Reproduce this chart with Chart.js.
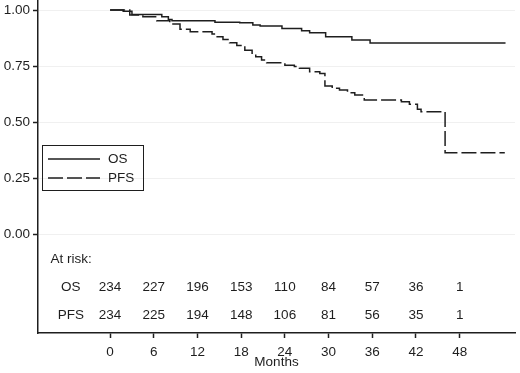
<!DOCTYPE html>
<html>
<head>
<meta charset="utf-8">
<script src="https://cdn.jsdelivr.net/npm/chart.js@4.4.1/dist/chart.umd.min.js"></script>
<style>
  html, body { margin: 0; padding: 0; background: #fff; }
</style>
</head>
<body>
<canvas id="km" width="520" height="373"></canvas>
<script>
// Kaplan-Meier steps (month, survival after that month)
const osMonths = [0, 1.8, 3.0, 7.1, 8.0, 8.5, 14.4, 17.8, 19.6, 20.6, 23.6, 26.3, 27.4, 29.6, 33.2, 35.7, 54.3];
const osSurv   = [1.0, 0.995, 0.98, 0.97, 0.958, 0.952, 0.946, 0.943, 0.933, 0.929, 0.918, 0.908, 0.899, 0.881, 0.866, 0.853, 0.853];

const pfsMonths = [0, 2.7, 4.5, 6.4, 8.2, 9.6, 11.0, 14.0, 14.7, 15.5, 16.4, 17.4, 18.5, 19.5, 20.0, 20.8, 21.5,
                   24.0, 25.3, 26.0, 27.4, 28.8, 29.5, 30.5, 31.5, 32.6, 33.6, 34.9, 40.0, 41.1, 42.2, 42.7, 46.0, 54.2];
const pfsSurv   = [1.0, 0.978, 0.970, 0.952, 0.938, 0.914, 0.903, 0.893, 0.881, 0.869, 0.854, 0.842, 0.821, 0.807, 0.792, 0.777, 0.765,
                   0.754, 0.748, 0.740, 0.725, 0.717, 0.661, 0.651, 0.643, 0.631, 0.621, 0.598, 0.591, 0.580, 0.557, 0.546, 0.363, 0.363];

const xTicks = [0, 6, 12, 18, 24, 30, 36, 42, 48];
const yTicks = [0, 0.25, 0.5, 0.75, 1];

const riskMonths = [0, 6, 12, 18, 24, 30, 36, 42, 48];
const riskOS  = [234, 227, 196, 153, 110, 84, 57, 36, 1];
const riskPFS = [234, 225, 194, 148, 106, 81, 56, 35, 1];

const ink = '#1e1e1e';
const fontStr = "13.5px 'Liberation Sans', Arial, sans-serif";
Chart.defaults.font.family = "'Liberation Sans', Arial, sans-serif";
Chart.defaults.font.size = 13.5;
Chart.defaults.color = ink;

function toPoints(xs, ys) {
  return xs.map(function (x, i) { return { x: x, y: ys[i] }; });
}

const extras = {
  id: 'extras',
  afterDraw: function (chart) {
    const c = chart.ctx;
    const xs = chart.scales.x, ys = chart.scales.y;
    c.save();
    c.fillStyle = ink;
    c.font = fontStr;
    c.textBaseline = 'middle';

    // number at risk table
    c.textAlign = 'left';
    c.fillText('At risk:', xs.getPixelForValue(-8.2), ys.getPixelForValue(-0.112));
    c.textAlign = 'center';
    const labelX = xs.getPixelForValue(-5.4);
    c.fillText('OS', labelX, ys.getPixelForValue(-0.236));
    c.fillText('PFS', labelX, ys.getPixelForValue(-0.361));
    riskMonths.forEach(function (m, i) {
      const px = xs.getPixelForValue(m);
      c.fillText(String(riskOS[i]), px, ys.getPixelForValue(-0.236));
      c.fillText(String(riskPFS[i]), px, ys.getPixelForValue(-0.361));
    });

    // axis title
    c.fillText('Months', (xs.left + xs.right) / 2, 362);

    // legend box
    c.strokeStyle = ink;
    c.lineWidth = 1;
    c.strokeRect(42.5, 145.5, 101, 45);
    c.lineWidth = 1.5;
    c.beginPath();
    c.moveTo(48, 159); c.lineTo(100, 159);
    c.stroke();
    c.setLineDash([15, 4]);
    c.beginPath();
    c.moveTo(48, 178); c.lineTo(100, 178);
    c.stroke();
    c.setLineDash([]);
    c.textAlign = 'left';
    c.fillText('OS', 108, 159);
    c.fillText('PFS', 108, 178);
    c.restore();
  }
};

new Chart(document.getElementById('km'), {
  type: 'line',
  data: {
    datasets: [{
      label: 'OS',
      data: toPoints(osMonths, osSurv),
      borderColor: ink,
      borderWidth: 1.5,
      pointRadius: 0,
      stepped: true,
      fill: false
    }, {
      label: 'PFS',
      data: toPoints(pfsMonths, pfsSurv),
      borderColor: ink,
      borderWidth: 1.5,
      borderDash: [15, 4],
      pointRadius: 0,
      stepped: true,
      fill: false
    }]
  },
  options: {
    responsive: false,
    animation: false,
    devicePixelRatio: 1,
    layout: { padding: { top: 0, right: 5, bottom: 0, left: 0 } },
    plugins: { legend: { display: false }, tooltip: { enabled: false } },
    scales: {
      x: {
        type: 'linear',
        min: -9.9,
        max: 55.6,
        afterBuildTicks: function (s) { s.ticks = xTicks.map(function (v) { return { value: v }; }); },
        afterFit: function (s) { s.height = 40; s.paddingLeft = 0; s.paddingRight = 0; },
        ticks: { padding: 6, maxRotation: 0, autoSkip: false, callback: function (v) { return String(v); } },
        grid: { drawOnChartArea: false, tickLength: 5, tickColor: ink, tickWidth: 1.5 },
        border: { color: ink, width: 1.5 }
      },
      y: {
        min: -0.442,
        max: 1.045,
        afterBuildTicks: function (s) { s.ticks = yTicks.map(function (v) { return { value: v }; }); },
        afterFit: function (s) { s.width = 38; s.paddingTop = 0; s.paddingBottom = 0; },
        ticks: { padding: 3, autoSkip: false, callback: function (v) { return Number(v).toFixed(2); } },
        grid: { color: '#f0f0f0', tickLength: 5, tickColor: ink, tickWidth: 1.5 },
        border: { color: ink, width: 1.5 }
      }
    }
  },
  plugins: [extras]
});
</script>
</body>
</html>
